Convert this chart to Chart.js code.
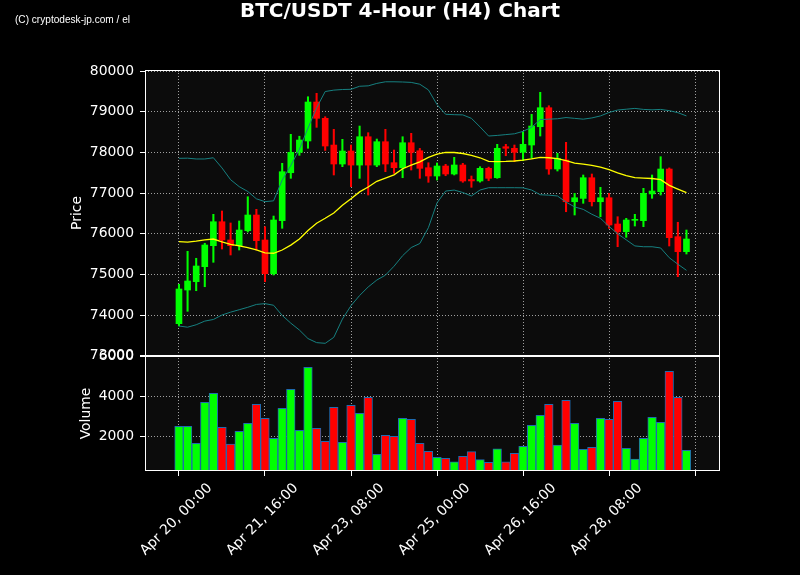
<!DOCTYPE html>
<html><head><meta charset="utf-8">
<script src="https://cdn.jsdelivr.net/npm/chart.js@4"></script>
<style>
html,body{margin:0;padding:0;background:#000;}
#wrap{position:relative;width:800px;height:575px;overflow:hidden;background:#000;}
#c{position:absolute;left:0;top:0;}
#title{position:absolute;left:0;top:-1px;width:800px;text-align:center;font:bold 20px "DejaVu Sans";color:#fff;line-height:22px;white-space:nowrap;}
#wm{position:absolute;left:15px;top:13px;font:11px "Liberation Sans";color:#fff;transform-origin:0 0;white-space:nowrap;line-height:13px;}
</style></head>
<body><div id="wrap"><canvas id="c" width="800" height="575"></canvas><div id="title">BTC/USDT 4-Hour (H4) Chart</div><div id="wm">(C) cryptodesk-jp.com / el</div></div>
<script>
const opens  = [73786,74615,74820,75189,75706,76296,75846,75706,76075,76461,75846,75016,76321,77502,78004,78283,79242,78841,78183,77716,78036,77690,78388,77690,78265,77749,77625,78240,78043,77625,77421,77667,77470,77692,77335,77298,77610,77379,78142,78103,78004,78184,78634,79102,77593,77815,76788,76870,77379,76788,76886,76240,76050,76330,76321,76980,77035,77593,75928,75558];
const highs  = [74756,75568,75396,75765,76478,76560,76265,76314,76911,76601,76173,76436,77733,78447,78400,79372,79456,78880,78570,78324,78184,78651,78487,78331,78570,78061,78388,78472,78100,77748,77741,77709,77881,77733,77421,77650,77640,78201,78201,78184,78511,78939,79481,79151,77980,78250,76995,77446,77470,77143,76995,76419,76380,76478,77118,77446,77896,77620,76282,76092];
const lows   = [73729,74091,74598,74696,75297,75624,75477,75600,76043,75600,74820,74985,76134,77364,77930,78103,78619,78050,77446,77650,77158,77364,76953,77650,77527,77487,77379,77568,77364,77266,77323,77428,77446,77266,77143,77270,77305,77364,77920,77773,77797,77856,78405,77463,77544,76542,76461,76749,76683,76419,76134,75681,75912,76190,76173,76872,76953,75698,74943,75501];
const closes = [74640,74837,75206,75723,76296,75846,75706,76092,76461,75829,75016,76338,77527,78004,78307,79242,78841,78159,77716,78036,77690,78388,77690,78265,77716,77625,78240,78004,77610,77421,77667,77470,77692,77298,77300,77610,77364,78103,78103,78004,78201,78651,79102,77593,77856,76788,76886,77379,76788,76886,76215,76050,76338,76355,76995,77052,77593,75903,75558,75870];
const volumes = [2489,2489,1632,3698,4151,2438,1597,2237,2640,3597,2892,1884,3395,4353,2287,5461,2388,1733,3446,1683,3547,3144,3950,1078,2035,1985,2892,2841,1632,1229,927,877,705,977,1209,806,675,1360,705,1128,1481,2539,3043,3597,1547,3798,2640,1330,1431,2892,2841,3748,1380,841,1884,2942,2690,5259,3950,1280];
const maLine = [75805,75795,75820,75850,75870,75800,75740,75700,75660,75600,75530,75520,75600,75720,75870,76080,76257,76380,76510,76700,76860,77030,77150,77290,77370,77450,77600,77690,77770,77880,77960,78000,78000,77975,77930,77870,77780,77775,77780,77790,77810,77840,77880,77870,77850,77800,77740,77715,77680,77640,77580,77500,77430,77380,77370,77360,77330,77190,77100,77010];
const bbUpper = [77856,77860,77840,77840,77870,77620,77330,77160,77040,76860,76790,76810,77320,77680,78080,78600,79100,79500,79535,79550,79555,79630,79640,79700,79740,79740,79735,79725,79680,79540,79180,78940,78930,78925,78840,78630,78405,78420,78440,78460,78520,78620,78810,78820,78830,78860,78840,78820,78850,78900,78985,79045,79065,79085,79060,79050,79060,79030,78980,78900];
const bbLower = [73729,73700,73760,73850,73890,74000,74070,74130,74190,74260,74280,74240,73990,73800,73630,73420,73320,73303,73450,73900,74230,74480,74690,74860,74980,75200,75460,75660,75760,76150,76760,77050,77075,77015,76930,77076,77133,77133,77133,77133,77130,77076,76960,76950,76930,76780,76660,76600,76480,76380,76180,76000,75850,75700,75680,75680,75650,75410,75250,75100];
const xTickIndex = [0,10,20,30,40,50,60];
const xTickLabels = ['Apr 20, 00:00','Apr 21, 16:00','Apr 23, 08:00','Apr 25, 00:00','Apr 26, 16:00','Apr 28, 08:00',''];
const priceTicks = [73000,74000,75000,76000,77000,78000,79000,80000];
const volumeTicks = [2000,4000,6000];

(function(){const wm=document.getElementById('wm');const w=wm.getBoundingClientRect().width;wm.style.transform='scaleX('+(115/w)+')';})();

const UP='#00ff00', DOWN='#ff0000';
const colors = closes.map((c,i)=> c>=opens[i]?UP:DOWN);
const idx = closes.map((_,i)=>i);
const FONT = {family:'DejaVu Sans', size:13.9};
const GRID = '#a0a0a0';

const panelPlugin = {
  id:'panel',
  beforeDraw(chart){
    const {ctx, chartArea:a} = chart;
    ctx.save();
    ctx.fillStyle='#000'; ctx.fillRect(0,0,chart.width,chart.height);
    ctx.fillStyle='#0c0c0c'; ctx.fillRect(a.left,a.top,a.right-a.left,a.bottom-a.top);
    ctx.restore();
  },
  afterDraw(chart){
    const {ctx, chartArea:a, scales} = chart;
    ctx.save();
    ctx.strokeStyle='#fff'; ctx.lineWidth=1;
    [scales.y, scales.yVol].forEach(s=>{
      ctx.strokeRect(Math.round(a.left)+0.5, Math.round(s.top)+0.5, Math.round(a.right-a.left)-1, Math.round(s.bottom-s.top)-1);
    });
    ctx.restore();
  }
};

function fixY(w){ return function(s){ s.width=w; s.paddingTop=0; s.paddingBottom=0; }; }

new Chart(document.getElementById('c'), {
  data:{datasets:[
    {type:'line', data: idx.map(i=>({x:i,y:bbUpper[i]})), yAxisID:'y', borderColor:'#168080', borderWidth:1, pointRadius:0, order:0},
    {type:'line', data: idx.map(i=>({x:i,y:bbLower[i]})), yAxisID:'y', borderColor:'#168080', borderWidth:1, pointRadius:0, order:0},
    {type:'line', data: idx.map(i=>({x:i,y:maLine[i]})), yAxisID:'y', borderColor:'#ffff00', borderWidth:1.3, pointRadius:0, order:0},
    {type:'bar', data: idx.map(i=>({x:i,y:[lows[i],highs[i]]})), yAxisID:'y', backgroundColor:colors, barThickness:1.4, grouped:false, order:2},
    {type:'bar', data: idx.map(i=>({x:i,y:[opens[i],closes[i]]})), yAxisID:'y', backgroundColor:colors, barThickness:6, grouped:false, order:1},
    {type:'bar', data: idx.map(i=>({x:i,y:volumes[i]})), yAxisID:'yVol', backgroundColor:colors, borderColor:'#1f6bb0', borderWidth:1, borderSkipped:false, barThickness:8.6, grouped:false, order:1}
  ]},
  options:{
    responsive:false, animation:false, devicePixelRatio:1,
    layout:{padding:{top:70,right:80,left:0,bottom:0}},
    plugins:{legend:{display:false}, tooltip:{enabled:false}, title:{display:false}},
    scales:{
      x:{type:'linear', min:-3.95, max:62.9, offset:false,
         afterBuildTicks(s){ s.ticks = xTickIndex.map(v=>({value:v})); },
         afterFit(s){ s.height=104; s.paddingLeft=0; s.paddingRight=0; },
         grid:{color:GRID, tickColor:'#fff', tickLength:5, lineWidth:1, offset:false},
         border:{display:false, dash:[1,2]},
         ticks:{color:'#fff', font:FONT, autoSkip:false, maxRotation:45, minRotation:45, padding:4, labelOffset:31,
           callback(v){ const k=xTickIndex.indexOf(v); return k>=0?xTickLabels[k]:''; }}
      },
      yVol:{type:'linear', position:'left', stack:'s', stackWeight:115, min:237, max:6030,
         afterBuildTicks(s){ s.ticks = volumeTicks.map(v=>({value:v})); },
         afterFit: fixY(145),
         grid:{color:GRID, tickColor:'#fff', tickLength:5},
         border:{display:false, dash:[1,2]},
         ticks:{color:'#fff', font:FONT, padding:6, callback:v=>String(v)},
         title:{display:true, text:'Volume', color:'#fff', font:FONT, padding:{top:78,bottom:0}}
      },
      y:{type:'linear', position:'left', stack:'s', stackWeight:286, min:72991, max:80030,
         afterBuildTicks(s){ s.ticks = priceTicks.map(v=>({value:v})); },
         afterFit: fixY(145),
         grid:{color:GRID, tickColor:'#fff', tickLength:5},
         border:{display:false, dash:[1,2]},
         ticks:{color:'#fff', font:FONT, padding:6, callback:v=>String(v)},
         title:{display:true, text:'Price', color:'#fff', font:FONT, padding:{top:69,bottom:0}}
      }
    }
  },
  plugins:[panelPlugin]
});
</script>
</body></html>
